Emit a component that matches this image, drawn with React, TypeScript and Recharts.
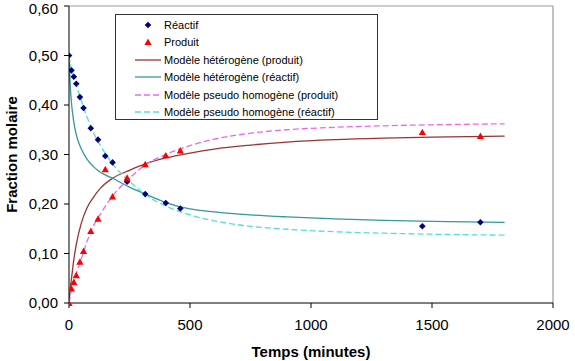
import React from "react";
import {
  ComposedChart,
  Line,
  Scatter,
  XAxis,
  YAxis,
  Legend,
  ReferenceLine,
} from "recharts";

// Measured points (time in minutes, molar fraction)
const reactifTimes = [0, 10, 20, 30, 45, 60, 90, 120, 150, 180, 240, 315, 400, 460, 1460, 1700];
const reactifValues = [0.5, 0.47, 0.457, 0.443, 0.416, 0.394, 0.353, 0.33, 0.297, 0.284, 0.245, 0.22, 0.202, 0.191, 0.155, 0.163];
const produitTimes = [0, 10, 20, 30, 45, 60, 90, 120, 150, 180, 240, 315, 400, 460, 1460, 1700];
const produitValues = [0, 0.029, 0.042, 0.056, 0.083, 0.105, 0.145, 0.17, 0.27, 0.215, 0.253, 0.28, 0.298, 0.308, 0.345, 0.337];

// Model curves sampled at common times
const modelTimes = [0, 5, 10, 20, 30, 50, 75, 100, 130, 180, 250, 315, 400, 500, 600, 750, 900, 1100, 1300, 1500, 1800];
const heteroProduit = [0, 0.028, 0.048, 0.088, 0.118, 0.16, 0.193, 0.213, 0.232, 0.252, 0.268, 0.281, 0.293, 0.303, 0.311, 0.319, 0.325, 0.33, 0.333, 0.335, 0.337];
const heteroReactif = [0.5, 0.44, 0.405, 0.365, 0.34, 0.312, 0.29, 0.276, 0.264, 0.252, 0.234, 0.22, 0.203, 0.19, 0.184, 0.178, 0.174, 0.17, 0.167, 0.165, 0.163];
const pseudoProduit = [0, 0.013, 0.026, 0.045, 0.06, 0.088, 0.125, 0.155, 0.18, 0.216, 0.252, 0.279, 0.3, 0.318, 0.331, 0.343, 0.35, 0.355, 0.358, 0.36, 0.362];
const pseudoReactif = [0.5, 0.485, 0.472, 0.456, 0.441, 0.41, 0.375, 0.345, 0.318, 0.281, 0.246, 0.219, 0.196, 0.178, 0.166, 0.155, 0.149, 0.144, 0.141, 0.139, 0.137];

const xTicks = [0, 500, 1000, 1500, 2000];
const yTicks = [0, 0.1, 0.2, 0.3, 0.4, 0.5, 0.6];

const FONT = "'Liberation Sans', Arial, sans-serif";

const C_REACTIF = "#000080";
const C_PRODUIT = "#ff0000";
const C_HET_P = "#993333";
const C_HET_R = "#339999";
const C_PSE_P = "#ee66ee";
const C_PSE_R = "#55dddd";

const toPoints = (ts: number[], vs: number[]) => ts.map((t, i) => ({ t, v: vs[i] }));

const reactifData = toPoints(reactifTimes, reactifValues);
const produitData = toPoints(produitTimes, produitValues);
const hetProdData = toPoints(modelTimes, heteroProduit);
const hetReacData = toPoints(modelTimes, heteroReactif);
const pseProdData = toPoints(modelTimes, pseudoProduit);
const pseReacData = toPoints(modelTimes, pseudoReactif);

const Diamond = (props: any) => {
  const { cx, cy } = props;
  const r = 3.3;
  return (
    <path
      d={`M${cx},${cy - r}L${cx + r},${cy}L${cx},${cy + r}L${cx - r},${cy}Z`}
      fill={C_REACTIF}
    />
  );
};

const Triangle = (props: any) => {
  const { cx, cy } = props;
  const h = 3.6;
  return (
    <path
      d={`M${cx},${cy - h}L${cx + h},${cy + h * 0.8}L${cx - h},${cy + h * 0.8}Z`}
      fill={C_PRODUIT}
    />
  );
};

type LegendItem = { label: string; kind: "diamond" | "triangle" | "line"; color: string; dash?: string };

const legendItems: LegendItem[] = [
  { label: "Réactif", kind: "diamond", color: C_REACTIF },
  { label: "Produit", kind: "triangle", color: C_PRODUIT },
  { label: "Modèle hétérogène (produit)", kind: "line", color: C_HET_P },
  { label: "Modèle hétérogène (réactif)", kind: "line", color: C_HET_R },
  { label: "Modèle pseudo homogène (produit)", kind: "line", color: C_PSE_P, dash: "6 3" },
  { label: "Modèle pseudo homogène (réactif)", kind: "line", color: C_PSE_R, dash: "6 3" },
];

const LegendBox = () => (
  <div
    style={{
      width: 261,
      height: 103,
      border: "1px solid #333",
      background: "#fff",
      paddingTop: 1,
      boxSizing: "content-box",
      fontFamily: FONT,
      fontSize: 11,
      color: "#000",
    }}
  >
    {legendItems.map((it) => (
      <div key={it.label} style={{ height: 17.5, display: "flex", alignItems: "center" }}>
        <svg width={48} height={10} style={{ flex: "none" }}>
          {it.kind === "diamond" && <Diamond cx={32} cy={5} />}
          {it.kind === "triangle" && <Triangle cx={32} cy={5} />}
          {it.kind === "line" && (
            <line x1={19} x2={45} y1={5} y2={5} stroke={it.color} strokeWidth={1.3} strokeDasharray={it.dash} />
          )}
        </svg>
        <span style={{ whiteSpace: "nowrap" }}>{it.label}</span>
      </div>
    ))}
  </div>
);

const XTitle = (props: any) => {
  const vb = props.viewBox;
  return (
    <text
      x={vb.x + vb.width / 2}
      y={vb.y + vb.height - 4}
      textAnchor="middle"
      fontFamily={FONT}
      fontSize={15}
      fontWeight="bold"
      fill="#000"
    >
      Temps (minutes)
    </text>
  );
};

const YTitle = (props: any) => {
  const vb = props.viewBox;
  const x = vb.x + 4;
  const y = vb.y + vb.height / 2;
  return (
    <text
      x={x}
      y={y}
      transform={`rotate(-90 ${x} ${y})`}
      textAnchor="middle"
      dominantBaseline="central"
      fontFamily={FONT}
      fontSize={15}
      fontWeight="bold"
      fill="#000"
    >
      Fraction molaire
    </text>
  );
};

const tickStyle = { fill: "#000", fontSize: 15, fontFamily: FONT };

export default function App() {
  return (
    <div style={{ position: "absolute", left: 0, top: 0, width: 575, height: 361, background: "#fff" }}>
      <ComposedChart width={575} height={361} margin={{ top: 6, right: 22, bottom: 0, left: 7 }}>
        <XAxis
          dataKey="t"
          type="number"
          domain={[0, 2000]}
          ticks={xTicks}
          tick={tickStyle}
          tickSize={5}
          tickMargin={11}
          height={58}
          axisLine={{ stroke: "#000" }}
          tickLine={{ stroke: "#000" }}
          allowDataOverflow
          label={<XTitle />}
        />
        <YAxis
          dataKey="v"
          type="number"
          domain={[0, 0.6]}
          ticks={yTicks}
          tick={tickStyle}
          tickSize={5}
          tickMargin={6}
          width={62}
          tickFormatter={(v: number) => v.toFixed(2).replace(".", ",")}
          axisLine={{ stroke: "#000" }}
          tickLine={{ stroke: "#000" }}
          label={<YTitle />}
        />
        <ReferenceLine y={0.6} stroke="#999" strokeWidth={1.2} />
        <ReferenceLine x={2000} stroke="#999" strokeWidth={1.2} />
        <Legend
          layout="vertical"
          align="center"
          verticalAlign="middle"
          wrapperStyle={{ left: 115, top: 14, width: 263, height: 105 }}
          content={() => <LegendBox />}
        />
        <Line data={hetProdData} dataKey="v" type="monotone" stroke={C_HET_P} strokeWidth={1.3} dot={false} isAnimationActive={false} />
        <Line data={hetReacData} dataKey="v" type="monotone" stroke={C_HET_R} strokeWidth={1.3} dot={false} isAnimationActive={false} />
        <Line data={pseProdData} dataKey="v" type="monotone" stroke={C_PSE_P} strokeWidth={1.3} strokeDasharray="6 3" dot={false} isAnimationActive={false} />
        <Line data={pseReacData} dataKey="v" type="monotone" stroke={C_PSE_R} strokeWidth={1.3} strokeDasharray="6 3" dot={false} isAnimationActive={false} />
        <Scatter data={reactifData} dataKey="v" shape={<Diamond />} isAnimationActive={false} />
        <Scatter data={produitData} dataKey="v" shape={<Triangle />} isAnimationActive={false} />
      </ComposedChart>
    </div>
  );
}
